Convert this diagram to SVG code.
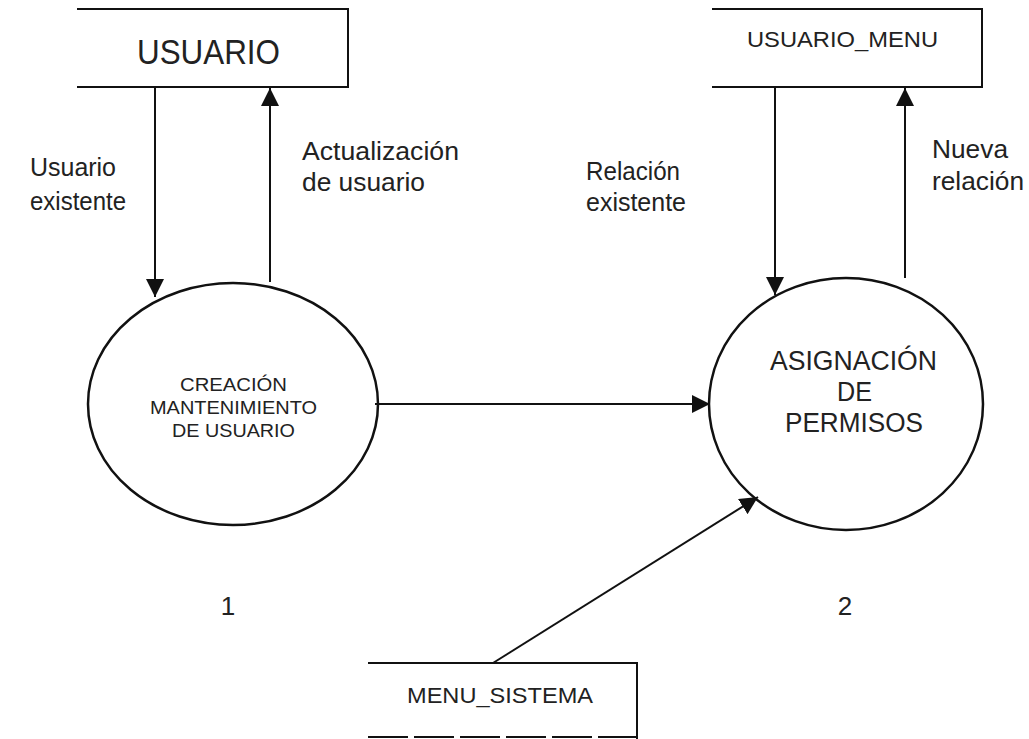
<svg xmlns="http://www.w3.org/2000/svg" width="1029" height="739" viewBox="0 0 1029 739">
<style>
.ln{stroke:#111;stroke-width:2;fill:none}
.el{stroke:#111;stroke-width:2.5;fill:#fff}
text{font-family:"Liberation Sans",Arial,sans-serif;fill:#222}
.lbl{font-size:26px}
</style>
<defs>
<marker id="ah" viewBox="0 0 10 10" refX="10" refY="5" markerWidth="18" markerHeight="18" markerUnits="userSpaceOnUse" orient="auto">
<path d="M0,0 L10,5 L0,10 z" fill="#111"/>
</marker>
</defs>
<g id="usuario">
<path class="ln" d="M77,9 H348 V87 H77"/>
<text x="137" y="64" font-size="35" textLength="143" lengthAdjust="spacingAndGlyphs">USUARIO</text>
</g>
<g id="usuario_menu">
<path class="ln" d="M712,9 H982 V87 H712"/>
<text x="747" y="47" font-size="22" textLength="191" lengthAdjust="spacingAndGlyphs">USUARIO_MENU</text>
</g>
<g id="menu_sistema">
<path class="ln" d="M368,663 H637 V739"/>
<path class="ln" d="M368,737 H637" stroke-dasharray="40 6"/>
<text x="407" y="703" font-size="22" textLength="186" lengthAdjust="spacingAndGlyphs">MENU_SISTEMA</text>
</g>
<g id="p1">
<ellipse class="el" cx="233" cy="404" rx="145" ry="121"/>
<text x="180" y="391" font-size="18" textLength="107" lengthAdjust="spacingAndGlyphs">CREACIÓN</text>
<text x="150" y="414" font-size="18" textLength="167" lengthAdjust="spacingAndGlyphs">MANTENIMIENTO</text>
<text x="172" y="437" font-size="18" textLength="123" lengthAdjust="spacingAndGlyphs">DE USUARIO</text>
<text x="228" y="615" font-size="26" text-anchor="middle">1</text>
</g>
<g id="p2">
<ellipse class="el" cx="846" cy="404" rx="137" ry="126"/>
<text x="770" y="370" font-size="27" textLength="167" lengthAdjust="spacingAndGlyphs">ASIGNACIÓN</text>
<text x="837" y="401" font-size="27" textLength="35" lengthAdjust="spacingAndGlyphs">DE</text>
<text x="785" y="432" font-size="27" textLength="138" lengthAdjust="spacingAndGlyphs">PERMISOS</text>
<text x="845" y="615" font-size="26" text-anchor="middle">2</text>
</g>
<g id="connectors">
<line class="ln" x1="155" y1="87" x2="155" y2="297" marker-end="url(#ah)"/>
<line class="ln" x1="270" y1="282" x2="270" y2="88" marker-end="url(#ah)"/>
<line class="ln" x1="775" y1="87" x2="775" y2="295" marker-end="url(#ah)"/>
<line class="ln" x1="905" y1="278" x2="905" y2="88" marker-end="url(#ah)"/>
<line class="ln" x1="375" y1="404" x2="710" y2="404" marker-end="url(#ah)"/>
<line class="ln" x1="493" y1="663" x2="758" y2="497" marker-end="url(#ah)"/>
</g>
<g id="labels">
<text class="lbl" x="30" y="176" textLength="86" lengthAdjust="spacingAndGlyphs">Usuario</text>
<text class="lbl" x="30" y="210" textLength="96" lengthAdjust="spacingAndGlyphs">existente</text>
<text class="lbl" x="302" y="160" textLength="157" lengthAdjust="spacingAndGlyphs">Actualización</text>
<text class="lbl" x="302" y="191" textLength="123" lengthAdjust="spacingAndGlyphs">de usuario</text>
<text class="lbl" x="586" y="180" textLength="94" lengthAdjust="spacingAndGlyphs">Relación</text>
<text class="lbl" x="586" y="211" textLength="100" lengthAdjust="spacingAndGlyphs">existente</text>
<text class="lbl" x="932" y="158" textLength="76" lengthAdjust="spacingAndGlyphs">Nueva</text>
<text class="lbl" x="932" y="190" textLength="92" lengthAdjust="spacingAndGlyphs">relación</text>
</g>
</svg>
